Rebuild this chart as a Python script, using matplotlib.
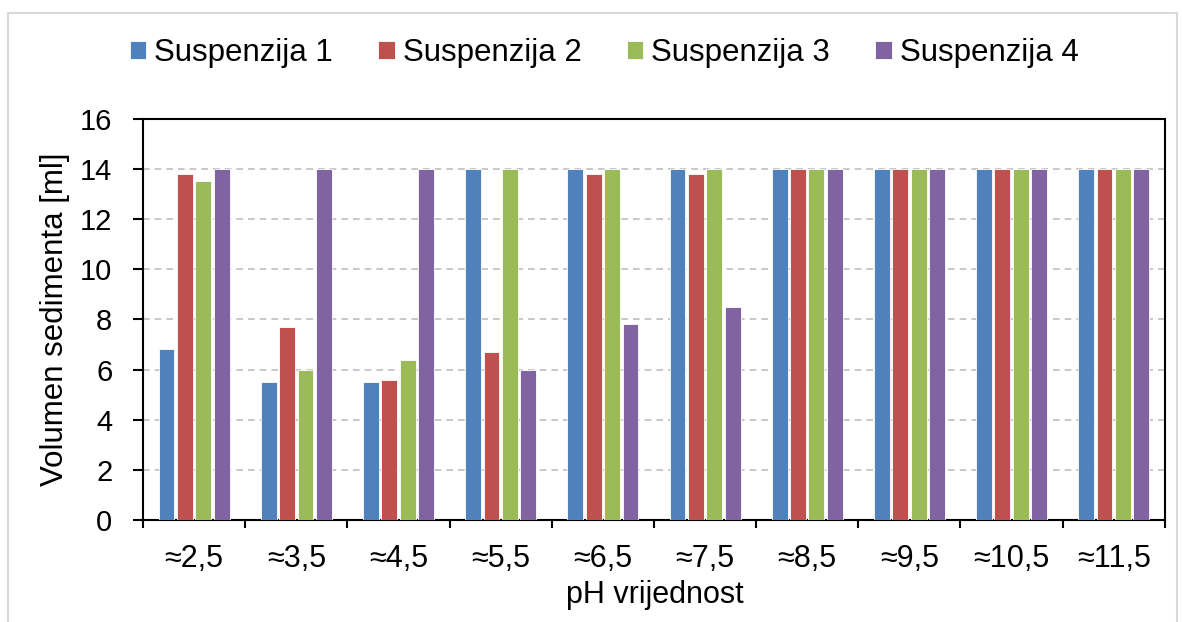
import numpy as np
import matplotlib
matplotlib.use('Agg')
import matplotlib.pyplot as plt
from matplotlib.patches import Rectangle

plt.rcParams['font.family'] = ['Liberation Sans', 'DejaVu Sans']

ph_labels = ['≈2,5', '≈3,5', '≈4,5', '≈5,5', '≈6,5', '≈7,5', '≈8,5', '≈9,5', '≈10,5', '≈11,5']
series_names = ['Suspenzija 1', 'Suspenzija 2', 'Suspenzija 3', 'Suspenzija 4']
susp1 = [6.8, 5.5, 5.5, 14, 14, 14, 14, 14, 14, 14]
susp2 = [13.8, 7.7, 5.6, 6.7, 13.8, 13.8, 14, 14, 14, 14]
susp3 = [13.5, 6.0, 6.4, 14, 14, 14, 14, 14, 14, 14]
susp4 = [14, 14, 14, 6.0, 7.8, 8.5, 14, 14, 14, 14]
colors = ['#4F81BD', '#C0504D', '#9BBB59', '#8064A2']


def main():
    fig = plt.figure(figsize=(11.82, 6.22), dpi=100)
    ax = fig.add_axes([0.121, 0.164, 0.8645, 0.645])

    # outer chart border (light gray)
    fig.patches.append(Rectangle((8 / 1182, -0.05), (1177 - 8) / 1182, 1.05 - 13 / 622,
                                 transform=fig.transFigure, fill=False,
                                 edgecolor='#D9D9D9', linewidth=1.5))

    x = np.arange(len(ph_labels))
    offsets = [-0.27, -0.09, 0.09, 0.27]
    data = [susp1, susp2, susp3, susp4]
    bars = []
    for vals, off, col, name in zip(data, offsets, colors, series_names):
        b = ax.bar(x + off, vals, width=0.155, color=col, edgecolor='white',
                   linewidth=0.6, label=name, zorder=3)
        bars.append(b)

    ax.set_xlim(-0.5, len(ph_labels) - 0.5)
    ax.set_ylim(0, 16)
    ax.set_yticks(np.arange(0, 17, 2))
    ax.yaxis.grid(True, linestyle=(0, (4, 3)), color='#BFBFBF', linewidth=1.2, zorder=0)

    ax.set_xticks(x)
    ax.set_xticklabels(ph_labels, fontsize=22)
    ax.set_xticks(np.arange(-0.5, len(ph_labels)), minor=True)
    ax.tick_params(axis='x', which='major', length=0, pad=17)
    ax.tick_params(axis='x', which='minor', length=6, width=1.5, direction='out')
    ax.tick_params(axis='y', labelsize=21, length=7, width=1.5, direction='out', pad=15)

    for s in ax.spines.values():
        s.set_linewidth(1.5)
        s.set_color('black')

    ax.set_xlabel('pH vrijednost', fontsize=22)
    ax.xaxis.set_label_coords(0.501, -0.15)
    ax.set_ylabel('Volumen sedimenta [ml]', fontsize=22.5)
    ax.yaxis.set_label_coords(-0.071, 0.5)

    fig.legend(handles=bars, labels=series_names, loc='center',
               bbox_to_anchor=(604 / 1182, 1 - 53 / 622), ncol=4, frameon=False,
               fontsize=22.5, handlelength=0.53, handleheight=0.53, handletextpad=0.25,
               columnspacing=1.45)

    fig.savefig('out.png', dpi=100)


if __name__ == "__main__":
    main()
